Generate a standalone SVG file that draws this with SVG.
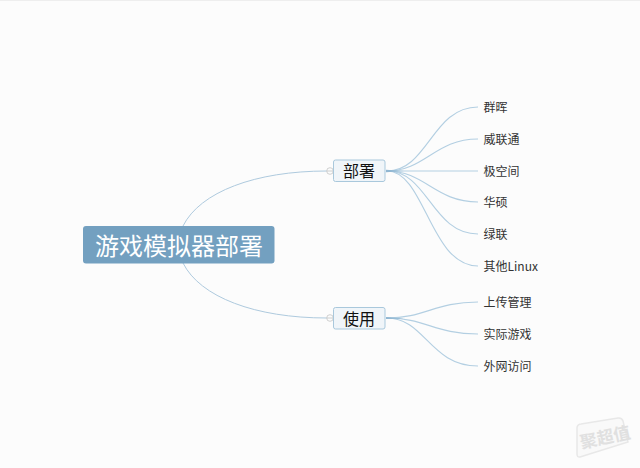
<svg xmlns="http://www.w3.org/2000/svg" width="640" height="468" viewBox="0 0 640 468">
<style>
text{font-family:"Noto Sans CJK SC","Liberation Sans",sans-serif;text-anchor:middle;dominant-baseline:central}
.leaf{font-size:12px;fill:#333;text-anchor:start}
.topic{font-size:16px;fill:#111}
.box{fill:#f0f5f9;stroke:#a9c8dc;stroke-width:1}
.main{fill:none;stroke:#aecade;stroke-width:1}
.br{fill:none;stroke:#b3cfe2;stroke-width:1.1}
.taper{fill:#8fb6d2}
.fold{fill:#fbfcfc;stroke:#c4c4c4;stroke-width:.8}
</style>
<rect width="640" height="468" fill="#fcfcfc"/>
<rect width="640" height="1" fill="#eeeeee"/>
<g id="connectors">
<path class="main" d="M183 226C200 192 255 171 327 171"/>
<path class="main" d="M183 263C200 297 255 318 327 318"/>
<path class="br" d="M387 171C428 171 432 107 478 107"/>
<path class="br" d="M387 171C425 171 435 139 478 139"/>
<path class="br" d="M387 171H478"/>
<path class="br" d="M387 171C425 171 435 202 478 202"/>
<path class="br" d="M387 171C428 171 432 234 478 234"/>
<path class="br" d="M387 171C425 171 430 266 478 266"/>
<path class="br" d="M387 318C425 318 435 302 478 302"/>
<path class="br" d="M387 318C425 318 435 334 478 334"/>
<path class="br" d="M387 318C425 318 430 366 478 366"/>
<path class="taper" d="M386 169.800L404 171L386 172.200Z"/>
<path class="taper" d="M386 317L404 318.500L386 319Z"/>
</g>
<g id="root">
<rect x="83" y="226" width="191.500" height="37.500" rx="3" fill="#73a0c0"/>
<text x="179" y="244" font-size="24" fill="#fff">游戏模拟器部署</text>
</g>
<g id="topic-deploy">
<circle class="fold" cx="330" cy="171" r="3.300"/>
<path d="M327 171H333" stroke="#c4c4c4" stroke-width=".8"/>
<rect class="box" x="333.500" y="160" width="51.500" height="21.500" rx="2"/>
<text class="topic" x="359" y="170">部署</text>
</g>
<g id="topic-use">
<circle class="fold" cx="330" cy="318" r="3.300"/>
<path d="M327 318H333" stroke="#c4c4c4" stroke-width=".8"/>
<rect class="box" x="333.500" y="307.500" width="51.500" height="21.500" rx="2"/>
<text class="topic" x="359" y="317.500">使用</text>
</g>
<g id="leaf-1"><text class="leaf" x="483.500" y="106">群晖</text></g>
<g id="leaf-2"><text class="leaf" x="483.500" y="138">威联通</text></g>
<g id="leaf-3"><text class="leaf" x="483.500" y="170">极空间</text></g>
<g id="leaf-4"><text class="leaf" x="483.500" y="201">华硕</text></g>
<g id="leaf-5"><text class="leaf" x="483.500" y="233">绿联</text></g>
<g id="leaf-6"><text class="leaf" x="483.500" y="265">其他Linux</text></g>
<g id="leaf-7"><text class="leaf" x="483.500" y="301">上传管理</text></g>
<g id="leaf-8"><text class="leaf" x="483.500" y="333">实际游戏</text></g>
<g id="leaf-9"><text class="leaf" x="483.500" y="365">外网访问</text></g>
<g id="watermark">
<path d="M581 424L618 418Q622 417.500 623 421L628 442L580 457Q577 457.500 577 454V428Q577 424.500 581 424Z" fill="#f9f9f9" stroke="#e8e8e8" stroke-width="1.500"/>
<text x="605" y="436" font-size="17" font-weight="700" fill="#e0e0e0" transform="rotate(-12 605 436)">聚超值</text>
</g>
</svg>
